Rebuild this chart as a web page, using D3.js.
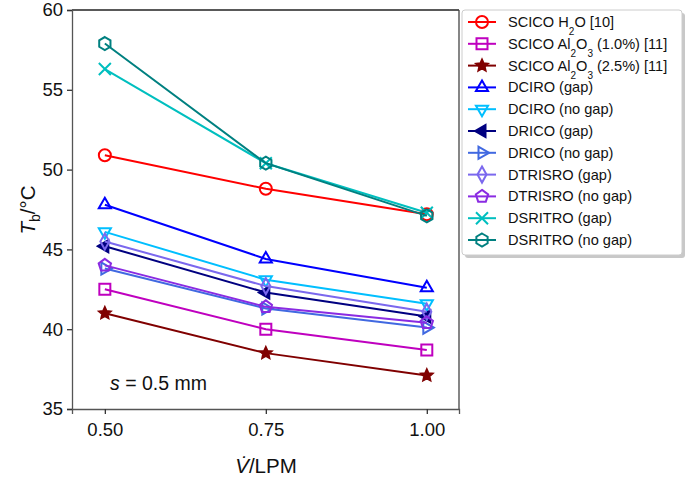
<!DOCTYPE html>
<html><head><meta charset="utf-8">
<script src="https://cdn.jsdelivr.net/npm/d3@7"></script>
<style>body{margin:0;background:#fff}svg{font-family:"Liberation Sans",Arial,sans-serif}</style>
</head><body>
<svg id="c" width="685" height="479"></svg>
<script>
const flowRates = [0.50, 0.75, 1.00];
const xTicks = [0.50, 0.75, 1.00];
const yTicks = [35, 40, 45, 50, 55, 60];

const sciH2O     = [50.9, 48.8, 47.2];
const sciAl1     = [42.5, 40.0, 38.7];
const sciAl25    = [41.0, 38.5, 37.1];
const dciroGap   = [47.8, 44.4, 42.6];
const dciroNo    = [46.1, 43.1, 41.6];
const dricoGap   = [45.2, 42.3, 40.8];
const dricoNo    = [43.8, 41.3, 40.1];
const dtrisroGap = [45.5, 42.7, 41.1];
const dtrisroNo  = [44.0, 41.4, 40.4];
const dsritroGap = [56.3, 50.4, 47.3];
const dsritroNo  = [57.9, 50.4, 47.1];

const series = [
  {label:[["SCICO H"],["2","sub"],["O [10]"]], vals:sciH2O, color:"#ff0000", m:"circle"},
  {label:[["SCICO Al"],["2","sub"],["O"],["3","sub"],[" (1.0%) [11]"]], vals:sciAl1, color:"#bf00bf", m:"square"},
  {label:[["SCICO Al"],["2","sub"],["O"],["3","sub"],[" (2.5%) [11]"]], vals:sciAl25, color:"#800000", m:"star"},
  {label:[["DCIRO (gap)"]], vals:dciroGap, color:"#0000ff", m:"triUp"},
  {label:[["DCIRO (no gap)"]], vals:dciroNo, color:"#00bfff", m:"triDown"},
  {label:[["DRICO (gap)"]], vals:dricoGap, color:"#000080", m:"triLeft"},
  {label:[["DRICO (no gap)"]], vals:dricoNo, color:"#4169e1", m:"triRight"},
  {label:[["DTRISRO (gap)"]], vals:dtrisroGap, color:"#7b68ee", m:"diamond"},
  {label:[["DTRISRO (no gap)"]], vals:dtrisroNo, color:"#8a2be2", m:"pentagon"},
  {label:[["DSRITRO (gap)"]], vals:dsritroGap, color:"#00bfbf", m:"x"},
  {label:[["DSRITRO (no gap)"]], vals:dsritroNo, color:"#008080", m:"hexagon"}
];

function poly(n, r, rot){
  const pts=[];
  for(let i=0;i<n;i++){const a=rot+i*2*Math.PI/n;pts.push([r*Math.cos(a), r*Math.sin(a)]);}
  return "M"+pts.map(p=>p[0].toFixed(2)+","+p[1].toFixed(2)).join("L")+"Z";
}
function markerPath(m){
  switch(m){
    case "circle": return "M6,0A6,6 0 1,1 -6,0A6,6 0 1,1 6,0Z";
    case "square": return "M-5.5,-5.5H5.5V5.5H-5.5Z";
    case "star": {const pts=[];for(let i=0;i<10;i++){const r=i%2?2.8:6;const a=-Math.PI/2+i*Math.PI/5;pts.push([r*Math.cos(a),r*Math.sin(a)]);}return "M"+pts.map(p=>p.map(v=>v.toFixed(2)).join(",")).join("L")+"Z";}
    case "triUp": return poly(3,7,-Math.PI/2);
    case "triDown": return poly(3,7,Math.PI/2);
    case "triLeft": return poly(3,7,Math.PI);
    case "triRight": return poly(3,7,0);
    case "diamond": return "M0,-8L4.5,0L0,8L-4.5,0Z";
    case "pentagon": return poly(5,6.5,-Math.PI/2);
    case "x": return "M-6,-6L6,6M-6,6L6,-6";
    case "hexagon": return poly(6,6.5,-Math.PI/2);
  }
}
function fillFor(s){ return (s.m==="star"||s.m==="triLeft") ? s.color : "none"; }

const svg = d3.select("#c");
const x = d3.scaleLinear().domain([0.449, 1.05]).range([72, 459]);
const y = d3.scaleLinear().domain([35, 60]).range([409, 10]);

// frame
svg.append("line").attr("x1",72).attr("x2",459).attr("y1",10).attr("y2",10).attr("stroke","#222").attr("stroke-width",1.3);
svg.append("line").attr("x1",459).attr("x2",459).attr("y1",10).attr("y2",409).attr("stroke","#444").attr("stroke-width",1.3);

const xAxis = svg.append("g").attr("transform","translate(0,409)")
  .call(d3.axisBottom(x).tickValues(xTicks).tickFormat(d3.format(".2f")).tickSize(5).tickPadding(9));
const yAxis = svg.append("g").attr("transform","translate(72,0)")
  .call(d3.axisLeft(y).tickValues(yTicks).tickFormat(d3.format("d")).tickSize(5).tickPadding(4));
[xAxis,yAxis].forEach(a=>{
  a.selectAll("path").attr("stroke","#555").attr("stroke-width",1.3);
  a.selectAll("line").attr("stroke","#333").attr("stroke-width",1.3);
  a.selectAll("text").attr("font-size",18.5).attr("fill","#111").attr("font-family","Liberation Sans, Arial, sans-serif");
});

const line = d3.line().x((d,i)=>x(flowRates[i])).y(d=>y(d));
const plot = svg.append("g");
series.forEach(s=>{
  plot.append("path").datum(s.vals).attr("d",line).attr("fill","none").attr("stroke",s.color).attr("stroke-width",2);
  plot.selectAll(null).data(s.vals).enter().append("path")
    .attr("transform",(d,i)=>`translate(${x(flowRates[i])},${y(d)})`)
    .attr("d",markerPath(s.m)).attr("fill",fillFor(s)).attr("stroke",s.color).attr("stroke-width",2);
});

// annotation
const ann = svg.append("text").attr("x",110).attr("y",390).attr("font-size",19.5).attr("fill","#111");
ann.append("tspan").attr("font-style","italic").text("s");
ann.append("tspan").text(" = 0.5 mm");

// axis titles
const xt = svg.append("text").attr("x",266).attr("y",473).attr("text-anchor","middle").attr("font-size",20.5).attr("fill","#111");
xt.append("tspan").attr("font-style","italic").text("V\u0307");
xt.append("tspan").text("/LPM");
const yt = svg.append("text").attr("transform","translate(35,210) rotate(-90)").attr("text-anchor","middle").attr("font-size",20.5).attr("fill","#111");
yt.append("tspan").attr("font-style","italic").text("T");
yt.append("tspan").attr("font-size",14).attr("dy",5).text("b");
yt.append("tspan").attr("dy",-5).text("/°C");

// legend
const lg = svg.append("g");
lg.append("rect").attr("x",465).attr("y",13).attr("width",220).attr("height",245).attr("rx",3).attr("fill","#c8c8c8");
lg.append("rect").attr("x",462).attr("y",10).attr("width",220).attr("height",245).attr("rx",3).attr("fill","#fff").attr("stroke","#ccc").attr("stroke-width",1);
series.forEach((s,i)=>{
  const yy = 22 + i*21.8;
  const g = lg.append("g").attr("transform",`translate(0,${yy})`);
  g.append("line").attr("x1",468).attr("x2",496).attr("y1",0).attr("y2",0).attr("stroke",s.color).attr("stroke-width",2);
  g.append("path").attr("transform","translate(482,0)").attr("d",markerPath(s.m)).attr("fill",fillFor(s)).attr("stroke",s.color).attr("stroke-width",2);
  const t = g.append("text").attr("x",508).attr("y",5).attr("font-size",14.6).attr("fill","#111");
  let shift = 0;
  s.label.forEach(p=>{
    const ts = t.append("tspan").text(p[0]);
    if(p[1]==="sub"){ ts.attr("font-size",10).attr("dy",8-shift); shift = 8; }
    else { ts.attr("dy",-shift); shift = 0; }
  });
});
</script>
</body></html>
